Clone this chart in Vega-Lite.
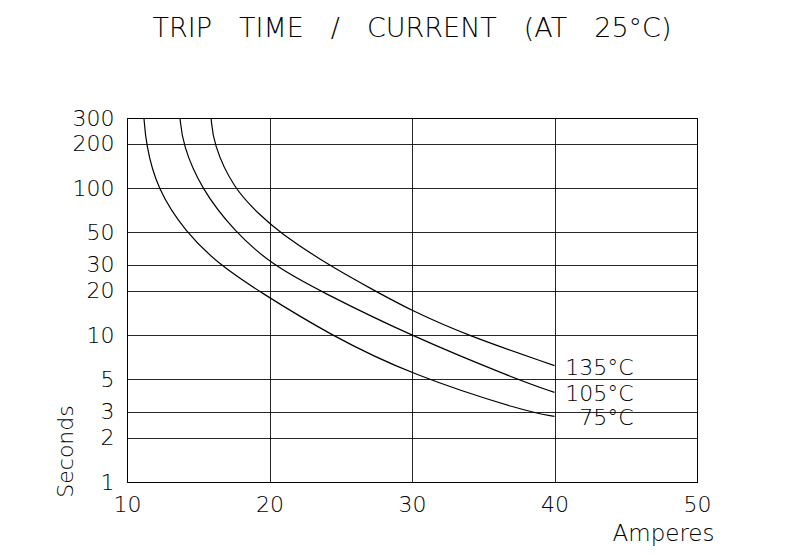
{
  "$schema": "https://vega.github.io/schema/vega-lite/v6.json",
  "width": 570,
  "height": 364,
  "autosize": {"type": "none"},
  "padding": {"left": 127, "top": 118, "right": 109, "bottom": 75},
  "background": "white",
  "config": {
    "font": "DejaVu Sans",
    "view": {"stroke": "black", "strokeWidth": 1},
    "axis": {"labelFont": "DejaVu Sans", "titleFont": "DejaVu Sans", "labelFontWeight": 200, "titleFontWeight": 200, "labelColor": "black", "titleColor": "black"}
  },
  "title": {
    "text": "TRIP\u2003TIME\u2003/\u2003CURRENT\u2003(AT\u200325°C)",
    "anchor": "middle",
    "fontSize": 27,
    "font": "DejaVu Sans",
    "fontWeight": 200,
    "color": "black",
    "offset": 64
  },
  "datasets": {
    "curves": [
      {"curve": "75°C", "A": 11.19, "s": 300},
      {"curve": "75°C", "A": 11.33, "s": 200},
      {"curve": "75°C", "A": 12.08, "s": 100},
      {"curve": "75°C", "A": 14.1, "s": 50},
      {"curve": "75°C", "A": 16.5, "s": 30},
      {"curve": "75°C", "A": 19.2, "s": 20},
      {"curve": "75°C", "A": 24.25, "s": 10},
      {"curve": "75°C", "A": 30, "s": 5.34},
      {"curve": "75°C", "A": 38.05, "s": 3},
      {"curve": "75°C", "A": 40, "s": 2.8},
      {"curve": "105°C", "A": 13.72, "s": 300},
      {"curve": "105°C", "A": 13.9, "s": 200},
      {"curve": "105°C", "A": 15.17, "s": 100},
      {"curve": "105°C", "A": 17.58, "s": 50},
      {"curve": "105°C", "A": 20.2, "s": 30},
      {"curve": "105°C", "A": 23.5, "s": 20},
      {"curve": "105°C", "A": 30, "s": 9.8},
      {"curve": "105°C", "A": 37.35, "s": 5},
      {"curve": "105°C", "A": 40, "s": 4.07},
      {"curve": "135°C", "A": 15.9, "s": 300},
      {"curve": "135°C", "A": 16.06, "s": 200},
      {"curve": "135°C", "A": 17.46, "s": 100},
      {"curve": "135°C", "A": 19.33, "s": 65.5},
      {"curve": "135°C", "A": 20.7, "s": 50},
      {"curve": "135°C", "A": 24.1, "s": 30},
      {"curve": "135°C", "A": 27.4, "s": 20},
      {"curve": "135°C", "A": 30, "s": 14.6},
      {"curve": "135°C", "A": 33.8, "s": 10},
      {"curve": "135°C", "A": 40, "s": 6.2}
    ],
    "labels": [
      {"curve": "135°C", "A": 40, "s": 6.2},
      {"curve": "105°C", "A": 40, "s": 4.07},
      {"curve": "75°C", "A": 40, "s": 2.8}
    ]
  },
  "layer": [
    {
      "data": {"name": "curves"},
      "mark": {"type": "line", "interpolate": "basis", "color": "black", "strokeWidth": 1.2, "clip": true},
      "encoding": {
        "x": {
          "field": "A", "type": "quantitative",
          "scale": {"domain": [10, 50], "nice": false, "zero": false},
          "axis": {
            "values": [10, 20, 30, 40, 50],
            "grid": true, "gridColor": "black", "gridWidth": 1, "gridOpacity": 0.85,
            "domain": false, "ticks": false,
            "labelFontSize": 22, "labelPadding": 12, "labelFlush": false,
            "title": "Amperes", "titleFontSize": 23,
            "titleAnchor": "end", "titleAlign": "right", "titleBaseline": "alphabetic",
            "titleX": 587, "titleY": 58
          }
        },
        "y": {
          "field": "s", "type": "quantitative",
          "scale": {"type": "log", "domain": [1, 300], "nice": false},
          "axis": {
            "values": [1, 2, 3, 5, 10, 20, 30, 50, 100, 200, 300],
            "grid": true, "gridColor": "black", "gridWidth": 1, "gridOpacity": 0.85,
            "domain": false, "ticks": false,
            "labelFontSize": 22, "labelPadding": 13,
            "labelFlush": false, "labelOverlap": false,
            "format": "d",
            "title": "Seconds", "titleFontSize": 22,
            "titleAngle": -90, "titleAlign": "center", "titleBaseline": "middle",
            "titleX": -62, "titleY": 333
          }
        },
        "detail": {"field": "curve"}
      }
    },
    {
      "data": {"name": "labels"},
      "mark": {"type": "text", "align": "right", "baseline": "middle", "dx": 79, "dy": 2, "fontSize": 22, "fontWeight": 200, "font": "DejaVu Sans", "color": "black"},
      "encoding": {
        "x": {"field": "A", "type": "quantitative"},
        "y": {"field": "s", "type": "quantitative"},
        "text": {"field": "curve"}
      }
    }
  ]
}
